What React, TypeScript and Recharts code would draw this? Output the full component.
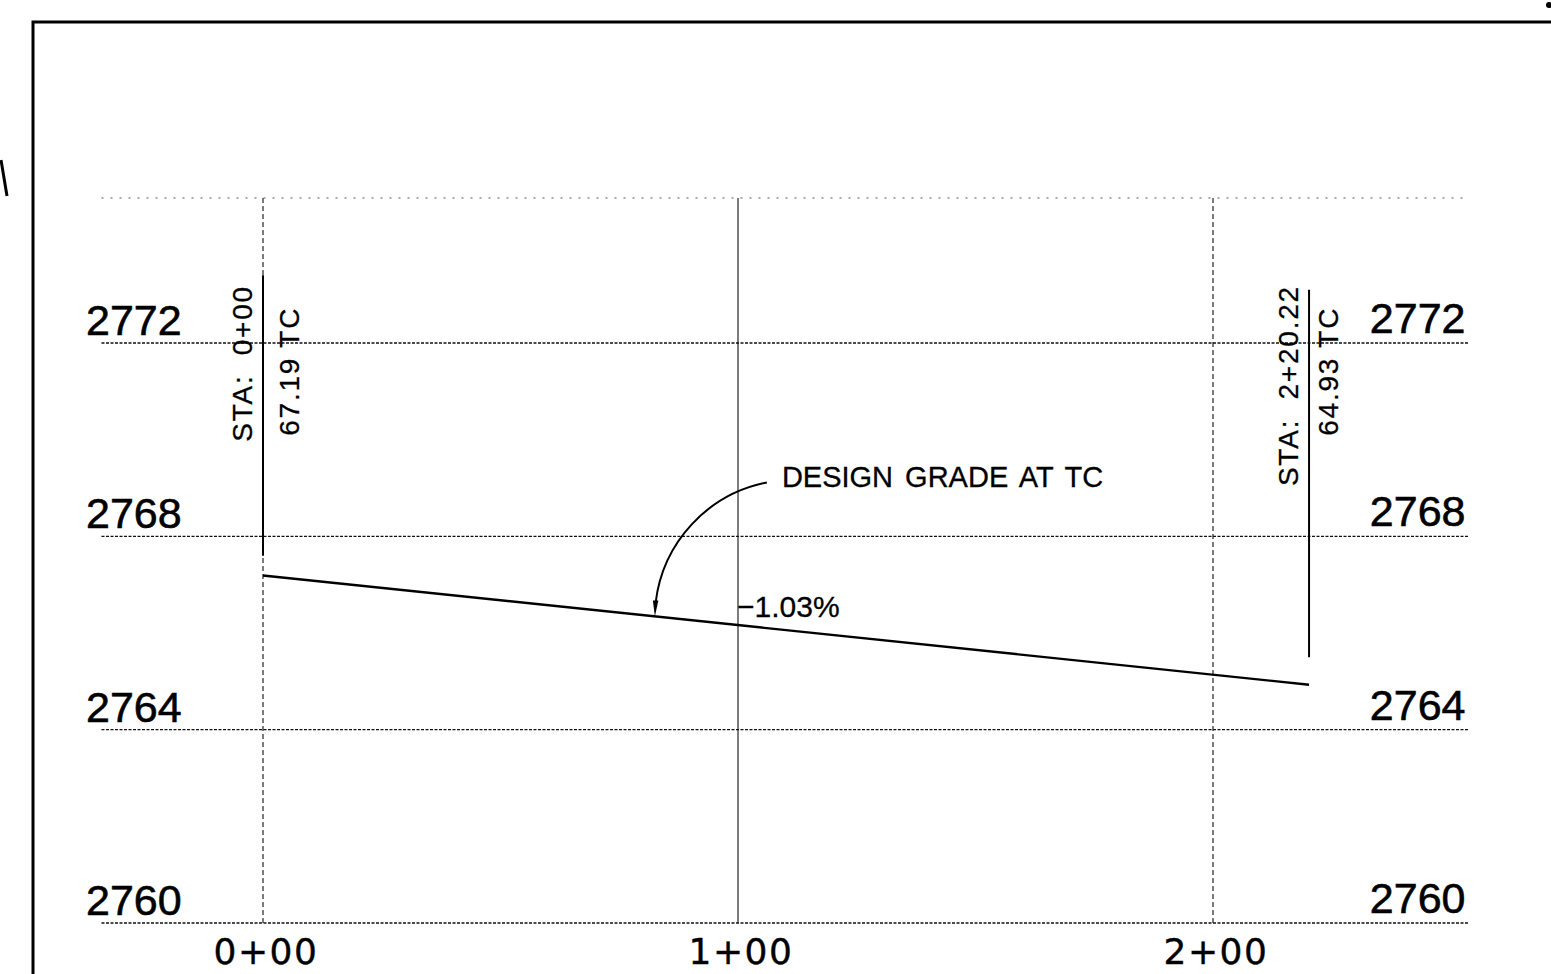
import { ComposedChart, Line, XAxis, YAxis, ReferenceLine, ReferenceDot } from "recharts";

// station axis (feet) and elevation axis
const STATION_TICKS = [0, 100, 200];
const STATION_LABELS = ["0+00", "1+00", "2+00"];
const STATION_DOMAIN = [-34, 254];
const ELEV_TICKS = [2760, 2764, 2768, 2772];
const ELEV_TOP = 2775;

// design grade at top of curb
const GRADE_STA = [0, 220.22];
const GRADE_ELEV = [2767.19, 2764.93];
const GRADE_LABEL = "\u22121.03%";
const GRADE_LABEL_STA = 100;
const CALLOUT_TEXT = "DESIGN GRADE AT TC";
const CALLOUT_STA = 82.5;

// station markers at the ends of the grade
const MARKER_STA = [0, 220.22];
const MARKER_TOP = [2773.4, 2773.1];
const MARKER_BOTTOM = [2767.6, 2765.5];
const MARKER_NAME = ["STA:\u00a0\u00a00+00", "STA:\u00a0\u00a02+20.22"];
const MARKER_ELEV = ["67.19 TC", "64.93 TC"];
const NAME_TOP = 2773.2;
const ELEV_TEXT_TOP = 2772.75;
const ELEV_TEXT_DX = [36, 29];

const FONT = "'Liberation Sans', Arial, sans-serif";
const W = 1551;
const H = 974;

const data = GRADE_STA.map((s, i) => ({ sta: s, elev: GRADE_ELEV[i] }));

function gradeAt(sta: number) {
  const t = (sta - GRADE_STA[0]) / (GRADE_STA[1] - GRADE_STA[0]);
  return GRADE_ELEV[0] + t * (GRADE_ELEV[1] - GRADE_ELEV[0]);
}

// scanned CAD text is a little heavier than the plain font
const ink = { fill: "#000", stroke: "#000", strokeWidth: 0.6 };

const LeftTick = ({ x, y, payload }: any) => (
  <text x={x - 15.5} y={y - 8} fontSize={43} fontFamily={FONT} {...ink}>
    {payload.value}
  </text>
);

const RightTick = ({ x, y, payload }: any) => (
  <text x={x - 4} y={y - 10} fontSize={43} fontFamily={FONT} textAnchor="end" {...ink}>
    {payload.value}
  </text>
);

const BottomTick = ({ x, y, payload }: any) => (
  <text x={x + 3} y={y + 41} fontSize={36} fontFamily="'DejaVu Sans', sans-serif" letterSpacing={1.5}
        textAnchor="middle" {...ink} strokeWidth={0.4}>
    {STATION_LABELS[STATION_TICKS.indexOf(payload.value)]}
  </text>
);

const rotText = (x: number, y: number, s: string) => (
  <text x={x} y={y} transform={`rotate(-90 ${x} ${y})`} fontSize={28} fontFamily={FONT}
        letterSpacing={1.8} textAnchor="end" {...ink} strokeWidth={0.3}>
    {s}
  </text>
);

export default function App() {
  return (
    <div style={{ position: "fixed", left: 0, top: 0, width: W, height: H, background: "#fff" }}>
      <ComposedChart width={W} height={H} data={data} margin={{ top: 198, right: 0, bottom: 0, left: 0 }}>
        <XAxis dataKey="sta" type="number" domain={STATION_DOMAIN} ticks={STATION_TICKS} height={51}
               axisLine={false} tickLine={false} tickSize={0} tickMargin={0} tick={BottomTick}
               allowDataOverflow />
        <YAxis yAxisId="l" orientation="left" type="number" domain={[ELEV_TICKS[0], ELEV_TOP]} ticks={ELEV_TICKS}
               width={101.5} axisLine={false} tickLine={false} tickSize={0} tickMargin={0} tick={LeftTick}
               allowDataOverflow />
        <YAxis yAxisId="r" orientation="right" type="number" domain={[ELEV_TICKS[0], ELEV_TOP]} ticks={ELEV_TICKS}
               width={81.5} axisLine={false} tickLine={false} tickSize={0} tickMargin={0} tick={RightTick}
               allowDataOverflow />

        <ReferenceLine yAxisId="l" y={ELEV_TOP} stroke="#555" strokeWidth={1.2} strokeDasharray="2 7" />
        {ELEV_TICKS.map((e) => (
          <ReferenceLine key={e} yAxisId="l" y={e} stroke="#111" strokeWidth={1.3} strokeDasharray="3 1.5" />
        ))}
        {STATION_TICKS.map((s, i) => (
          <ReferenceLine key={s} yAxisId="l" x={s} stroke="#111" strokeWidth={1.1}
                         strokeDasharray={i === 1 ? undefined : "5 3"} />
        ))}

        {MARKER_STA.map((s, i) => (
          <ReferenceLine key={"m" + i} yAxisId="l" stroke="#000" strokeWidth={2}
                         segment={[{ x: s, y: MARKER_TOP[i] }, { x: s, y: MARKER_BOTTOM[i] }]} />
        ))}
        {MARKER_STA.map((s, i) => (
          <ReferenceDot key={"n" + i} yAxisId="l" x={s} y={NAME_TOP} r={0}
                        shape={(p: any) => rotText(p.cx - 11, p.cy, MARKER_NAME[i])} />
        ))}
        {MARKER_STA.map((s, i) => (
          <ReferenceDot key={"e" + i} yAxisId="l" x={s} y={ELEV_TEXT_TOP} r={0}
                        shape={(p: any) => rotText(p.cx + ELEV_TEXT_DX[i], p.cy, MARKER_ELEV[i])} />
        ))}

        <Line yAxisId="l" type="linear" dataKey="elev" stroke="#000" strokeWidth={2.4} dot={false}
              isAnimationActive={false} />

        <ReferenceDot yAxisId="l" x={GRADE_LABEL_STA} y={gradeAt(GRADE_LABEL_STA)} r={0}
                      shape={(p: any) => (
                        <text x={p.cx - 1} y={p.cy - 8} fontSize={30} fontFamily={FONT} {...ink} strokeWidth={0.3}>
                          {GRADE_LABEL}
                        </text>
                      )} />
        <ReferenceDot yAxisId="l" x={CALLOUT_STA} y={gradeAt(CALLOUT_STA)} r={0}
                      shape={(p: any) => {
                        const { cx, cy } = p;
                        const sx = cx + 112;
                        const sy = cy - 134;
                        return (
                          <g>
                            <path d={`M${sx},${sy} A139,139 0 0 0 ${cx + 0.8},${cy - 14}`} fill="none"
                                  stroke="#000" strokeWidth={2} />
                            <polygon points={`${cx},${cy} ${cx - 2},${cy - 16} ${cx + 3.5},${cy - 16}`} fill="#000" />
                            <text x={cx + 127} y={cy - 129} fontSize={29} fontFamily={FONT} wordSpacing={4}
                                  {...ink} strokeWidth={0.3}>
                              {CALLOUT_TEXT}
                            </text>
                          </g>
                        );
                      }} />
      </ComposedChart>
      <svg width={W} height={H} style={{ position: "absolute", left: 0, top: 0, pointerEvents: "none" }}>
        <path d={`M33,${H} L33,22 L${W},22`} fill="none" stroke="#000" strokeWidth={3} />
        <line x1={1} y1={160} x2={7} y2={196} stroke="#000" strokeWidth={3} />
        <circle cx={1549} cy={5} r={3} fill="#000" />
      </svg>
    </div>
  );
}
